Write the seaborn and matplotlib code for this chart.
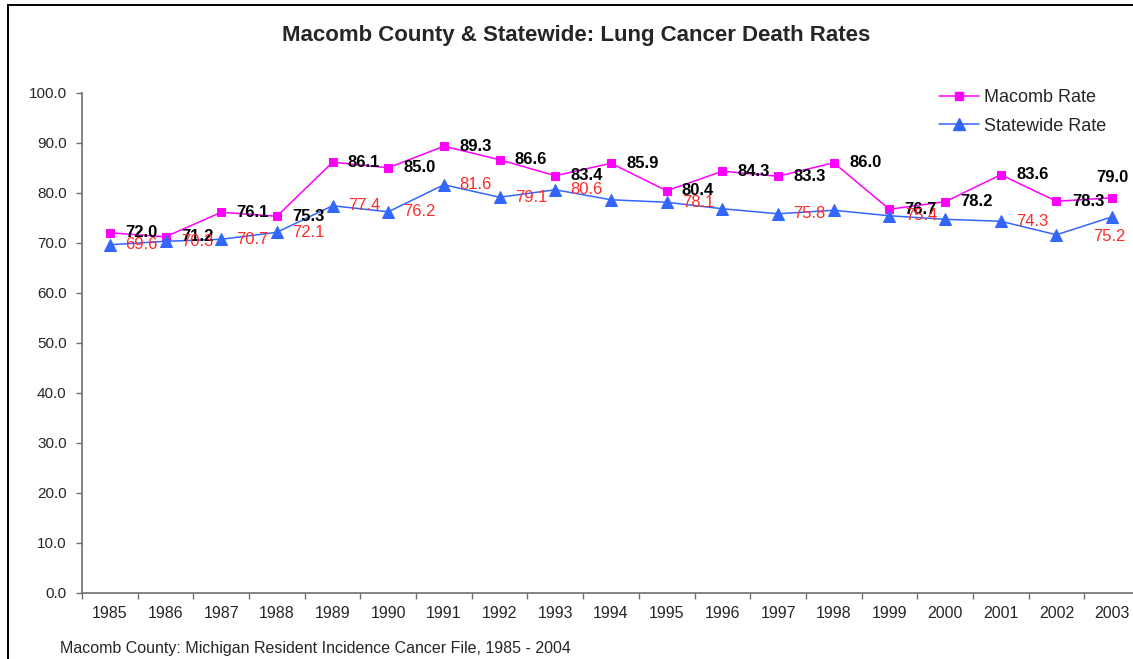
import matplotlib
matplotlib.use("Agg")
import matplotlib.pyplot as plt
import matplotlib.ticker as mticker
from matplotlib.lines import Line2D
import seaborn as sns
import pandas as pd

# Annual lung cancer death rates (per 100,000)
years = [1985, 1986, 1987, 1988, 1989, 1990, 1991, 1992, 1993, 1994,
         1995, 1996, 1997, 1998, 1999, 2000, 2001, 2002, 2003]
macomb_rate = [72.0, 71.2, 76.1, 75.3, 86.1, 85.0, 89.3, 86.6, 83.4, 85.9,
               80.4, 84.3, 83.3, 86.0, 76.7, 78.2, 83.6, 78.3, 79.0]
statewide_rate = [69.6, 70.3, 70.7, 72.1, 77.4, 76.2, 81.6, 79.1, 80.6, 78.6,
                  78.1, 76.8, 75.8, 76.5, 75.4, 74.7, 74.3, 71.6, 75.2]
# Years whose statewide value carries a data label
statewide_labelled = [1985, 1986, 1987, 1988, 1989, 1990, 1991, 1992, 1993,
                      1995, 1997, 1999, 2001, 2003]
y_ticks = [0, 10, 20, 30, 40, 50, 60, 70, 80, 90, 100]

title = "Macomb County & Statewide: Lung Cancer Death Rates"
source_note = "Macomb County: Michigan Resident Incidence Cancer File, 1985 - 2004"

sns.set_style("white")
plt.rcParams["font.family"] = ["Liberation Sans", "DejaVu Sans"]

MAGENTA = "#FF00FF"
BLUE = "#3366FF"
RED = "#FF2A2A"

df = pd.DataFrame({"Year": years,
                   "Macomb Rate": macomb_rate,
                   "Statewide Rate": statewide_rate})

W, H = 1133, 659
fig = plt.figure(figsize=(W / 100, H / 100), dpi=100)
ax = fig.add_axes([82 / W, 66 / H, (1140 - 82) / W, 500.3 / H])

sns.lineplot(data=df, x="Year", y="Macomb Rate", ax=ax, color=MAGENTA,
             marker="s", markersize=6, markeredgecolor=MAGENTA, linewidth=1.1)
sns.lineplot(data=df, x="Year", y="Statewide Rate", ax=ax, color=BLUE,
             marker="^", markersize=8, markeredgecolor=BLUE, linewidth=1.1)

ax.set_xlim(years[0] - 0.5, years[-1] + 0.5)
ax.set_ylim(0, 100)
ax.set_xlabel("")
ax.set_ylabel("")

# Category labels centred, tick marks on category boundaries
ax.xaxis.set_major_locator(mticker.FixedLocator(years))
ax.xaxis.set_major_formatter(mticker.FixedFormatter([str(y) for y in years]))
ax.xaxis.set_minor_locator(mticker.FixedLocator([y + 0.5 for y in [years[0] - 1] + years]))
ax.tick_params(axis="x", which="major", length=0, pad=9, labelsize=11.5)
ax.tick_params(axis="x", which="minor", length=4, width=1, color="#707070",
               direction="out", bottom=True)
ax.set_yticks(y_ticks)
ax.yaxis.set_major_formatter(mticker.FormatStrFormatter("%.1f"))
ax.tick_params(axis="y", length=4, width=1, color="#707070", direction="out",
               left=True, labelsize=11, pad=7)

for side in ("top", "right"):
    ax.spines[side].set_visible(False)
for side in ("left", "bottom"):
    ax.spines[side].set_color("#707070")
    ax.spines[side].set_linewidth(1.2)

# Data labels
LABEL_SIZE = 12
for yr, v in zip(years, macomb_rate):
    if yr == years[-1]:
        ax.annotate(f"{v:.1f}", (yr, v), xytext=(0, 9), textcoords="offset points",
                    ha="center", va="bottom", fontsize=LABEL_SIZE, fontweight="bold",
                    color="black")
    else:
        ax.annotate(f"{v:.1f}", (yr, v), xytext=(11, 0), textcoords="offset points",
                    ha="left", va="center", fontsize=LABEL_SIZE, fontweight="bold",
                    color="black")
for yr, v in zip(years, statewide_rate):
    if yr not in statewide_labelled:
        continue
    if yr == years[-1]:
        ax.annotate(f"{v:.1f}", (yr, v), xytext=(-2, -9), textcoords="offset points",
                    ha="center", va="top", fontsize=LABEL_SIZE, color=RED)
    else:
        ax.annotate(f"{v:.1f}", (yr, v), xytext=(11, 0), textcoords="offset points",
                    ha="left", va="center", fontsize=LABEL_SIZE, color=RED)

handles = [
    Line2D([], [], color=MAGENTA, marker="s", markersize=6, linewidth=1.1),
    Line2D([], [], color=BLUE, marker="^", markersize=8, linewidth=1.1),
]
fig.legend(handles, ["Macomb Rate", "Statewide Rate"], loc="upper left",
           bbox_to_anchor=(939 / W, 1 - 89 / H), frameon=False, fontsize=13,
           handlelength=2.2, handletextpad=0.3, borderpad=0, labelspacing=0.65,
           borderaxespad=0)

fig.text(576 / W, 1 - 36 / H, title, ha="center", va="center",
         fontsize=16, fontweight="bold")
fig.text(60 / W, 1 - 648 / H, source_note, ha="left", va="center", fontsize=11.5)

# Outer chart frame
fig.add_artist(Line2D([8 / W, 8 / W], [0, 1 - 5 / H], transform=fig.transFigure,
                      color="black", linewidth=1.4))
fig.add_artist(Line2D([8 / W, 1], [1 - 5 / H, 1 - 5 / H], transform=fig.transFigure,
                      color="black", linewidth=1.4))

fig.savefig("out.png", dpi=100)
